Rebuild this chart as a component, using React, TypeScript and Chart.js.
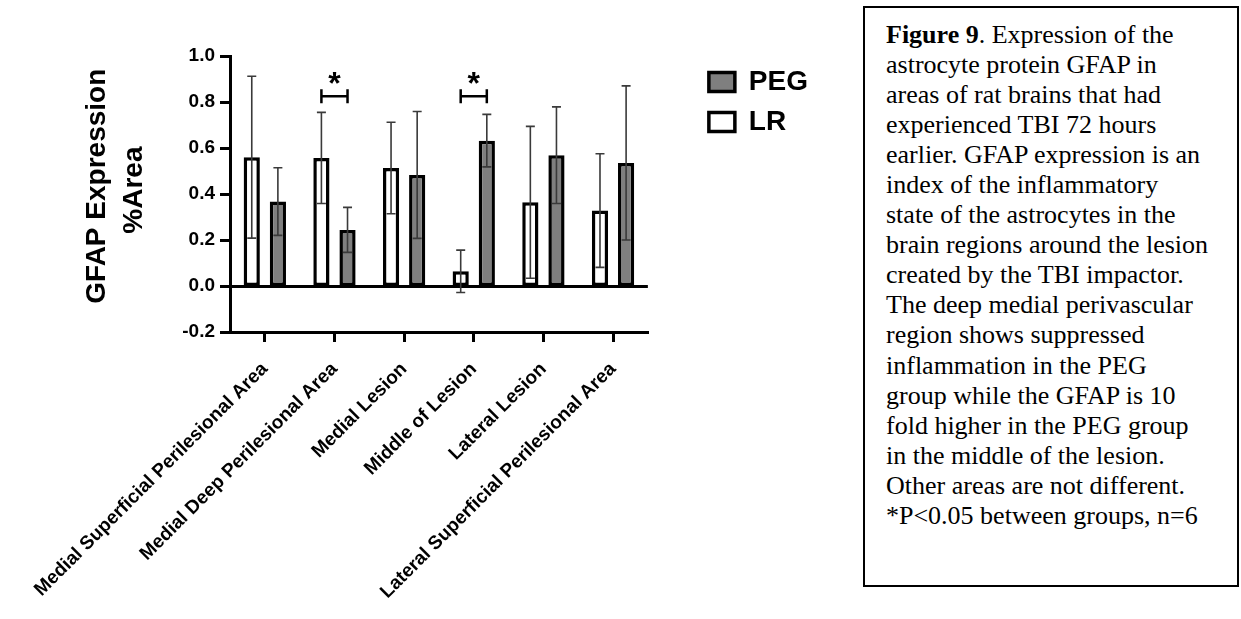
import React, { useEffect, useRef } from 'react';
import { Chart, registerables } from 'chart.js';

Chart.register(...registerables);

// ---- data ----
const categories = [
  'Medial Superficial Perilesional Area',
  'Medial Deep Perilesional Area',
  'Medial Lesion',
  'Middle of Lesion',
  'Lateral Lesion',
  'Lateral Superficial Perilesional Area',
];
const lrMeans = [0.56, 0.557, 0.513, 0.064, 0.364, 0.328];
const lrSDs = [0.352, 0.198, 0.199, 0.092, 0.33, 0.247];
const pegMeans = [0.367, 0.244, 0.483, 0.632, 0.569, 0.535];
const pegSDs = [0.147, 0.098, 0.276, 0.114, 0.21, 0.335];
const yMin = -0.2;
const yMax = 1.0;
const yStep = 0.2;
const yTitleLines = ['GFAP Expression', '%Area'];
const significantIdx = [1, 3];
const bracketLevel = 0.825;
const starLevel = 0.905;

const captionTitle = 'Figure 9';
const captionLines = [
  '. Expression of the',
  'astrocyte protein GFAP in',
  'areas of rat brains that had',
  'experienced TBI 72 hours',
  'earlier. GFAP expression is an',
  'index of the inflammatory',
  'state of the astrocytes in the',
  'brain regions around the lesion',
  'created by the TBI impactor.',
  'The deep medial perivascular',
  'region shows suppressed',
  'inflammation in the PEG',
  'group while the GFAP is 10',
  'fold higher in the PEG group',
  'in the middle of the lesion.',
  'Other areas are not different.',
  '*P<0.05 between groups, n=6',
];

const SANS = '"Liberation Sans", Arial, sans-serif';
const sdByDataset = [lrSDs, pegSDs];

const errorBarPlugin = {
  id: 'errorBars',
  afterDatasetsDraw(chart: any) {
    const { ctx } = chart;
    const y = chart.scales.y;
    chart.data.datasets.forEach((ds: any, di: number) => {
      const meta = chart.getDatasetMeta(di);
      const sds = sdByDataset[di];
      meta.data.forEach((bar: any, i: number) => {
        const m = ds.data[i];
        const s = sds[i];
        const yTop = y.getPixelForValue(m + s);
        const yBot = y.getPixelForValue(m - s);
        const x = bar.x;
        ctx.save();
        ctx.strokeStyle = '#3a3a3a';
        ctx.lineWidth = 1.6;
        ctx.beginPath();
        ctx.moveTo(x, yTop);
        ctx.lineTo(x, yBot);
        ctx.moveTo(x - 4.5, yTop);
        ctx.lineTo(x + 4.5, yTop);
        ctx.moveTo(x - 4.5, yBot);
        ctx.lineTo(x + 4.5, yBot);
        ctx.stroke();
        ctx.restore();
      });
    });
  },
};

const sigPlugin = {
  id: 'significance',
  afterDatasetsDraw(chart: any) {
    const { ctx } = chart;
    const y = chart.scales.y;
    const m0 = chart.getDatasetMeta(0);
    const m1 = chart.getDatasetMeta(1);
    significantIdx.forEach((i) => {
      const x1 = m0.data[i].x;
      const x2 = m1.data[i].x;
      const yb = y.getPixelForValue(bracketLevel);
      ctx.save();
      ctx.strokeStyle = '#000';
      ctx.lineWidth = 2.5;
      ctx.beginPath();
      ctx.moveTo(x1, yb);
      ctx.lineTo(x2, yb);
      ctx.moveTo(x1, yb - 7);
      ctx.lineTo(x1, yb + 7);
      ctx.moveTo(x2, yb - 7);
      ctx.lineTo(x2, yb + 7);
      ctx.stroke();
      ctx.fillStyle = '#000';
      ctx.font = `bold 32px ${SANS}`;
      ctx.textAlign = 'center';
      ctx.textBaseline = 'middle';
      ctx.fillText('*', (x1 + x2) / 2, y.getPixelForValue(starLevel) + 7);
      ctx.restore();
    });
  },
};

export default function App() {
  const canvasRef = useRef<HTMLCanvasElement | null>(null);

  useEffect(() => {
    const canvas = canvasRef.current;
    if (!canvas) return;
    const isZero = (c: any) => c.tick && Math.abs(c.tick.value) < 1e-9;
    const chart = new Chart(canvas, {
      type: 'bar',
      data: {
        labels: categories,
        datasets: [
          {
            label: 'LR',
            data: lrMeans,
            backgroundColor: '#ffffff',
            borderColor: '#000000',
            borderWidth: 3.5,
            borderSkipped: false,
            barPercentage: 0.62,
            categoryPercentage: 0.75,
          },
          {
            label: 'PEG',
            data: pegMeans,
            backgroundColor: '#7f7f7f',
            borderColor: '#000000',
            borderWidth: 3.5,
            borderSkipped: false,
            barPercentage: 0.62,
            categoryPercentage: 0.75,
          },
        ],
      },
      options: {
        animation: false,
        responsive: false,
        devicePixelRatio: 1,
        events: [],
        layout: { padding: { left: 71, top: 48, right: 40, bottom: 0 } },
        plugins: {
          legend: {
            position: 'right',
            align: 'start',
            reverse: true,
            labels: {
              boxWidth: 26,
              boxHeight: 19,
              padding: 12,
              color: '#000',
              font: { family: SANS, size: 28, weight: 'bold' },
            },
          },
          tooltip: { enabled: false },
        },
        scales: {
          x: {
            type: 'category',
            offset: true,
            grid: {
              display: true,
              offset: false,
              drawOnChartArea: false,
              drawTicks: true,
              tickLength: 10,
              tickWidth: 3,
              tickColor: '#000',
              color: '#000',
              lineWidth: 3,
            },
            border: { display: true, color: '#000', width: 3 },
            ticks: {
              autoSkip: false,
              minRotation: 45,
              maxRotation: 45,
              color: '#000',
              padding: 16,
              font: { family: SANS, size: 19, weight: 'bold' },
            },
            afterFit: (s: any) => {
              s.height = 284;
              s.paddingLeft = 0;
              s.paddingRight = 0;
            },
          },
          y: {
            type: 'linear',
            min: yMin,
            max: yMax,
            ticks: {
              stepSize: yStep,
              color: '#000',
              padding: 5,
              font: { family: SANS, size: 19, weight: 'bold' },
              callback: (v: any) => (Math.abs(Number(v)) < 1e-9 ? '0.0' : Number(v).toFixed(1)),
            },
            grid: {
              display: true,
              drawOnChartArea: true,
              drawTicks: true,
              tickLength: 10,
              tickWidth: 3,
              tickColor: '#000',
              lineWidth: 3,
              color: (c: any) => (isZero(c) ? '#000' : 'rgba(0,0,0,0)'),
            },
            border: { display: true, color: '#000', width: 3 },
            title: {
              display: true,
              text: ['  ' + yTitleLines[0], ' ' + yTitleLines[1]],
              color: '#000',
              padding: 0,
              font: { family: SANS, size: 28, weight: 'bold', lineHeight: 1.32 },
            },
            afterFit: (s: any) => {
              s.width = 151;
            },
          },
          y2: {
            type: 'linear',
            position: 'right',
            display: true,
            grid: { display: false },
            border: { display: false },
            ticks: { display: false },
            afterFit: (s: any) => {
              s.width = 49;
            },
          },
        },
      },
      plugins: [errorBarPlugin, sigPlugin],
    } as any);
    return () => chart.destroy();
  }, []);

  return (
    <div style={{ position: 'relative', width: 1241, height: 619, background: '#fff', overflow: 'hidden' }}>
      <style>{'html,body{margin:0;padding:0;}'}</style>
      <canvas
        ref={canvasRef}
        width={850}
        height={608}
        style={{ position: 'absolute', left: 8, top: 8, width: 850, height: 608, display: 'block' }}
      />
      <div
        style={{
          position: 'absolute',
          left: 863,
          top: 6,
          width: 376,
          height: 581,
          border: '2px solid #000',
          boxSizing: 'border-box',
          padding: '12px 0 0 21px',
          fontFamily: '"Liberation Serif", "Times New Roman", serif',
          fontSize: 26,
          lineHeight: '30.05px',
          color: '#000',
          whiteSpace: 'nowrap',
          background: '#fff',
        }}
      >
        {captionLines.map((line, i) => (
          <div key={i}>
            {i === 0 ? (
              <>
                <b>{captionTitle}</b>
                {line}
              </>
            ) : (
              line
            )}
          </div>
        ))}
      </div>
    </div>
  );
}
